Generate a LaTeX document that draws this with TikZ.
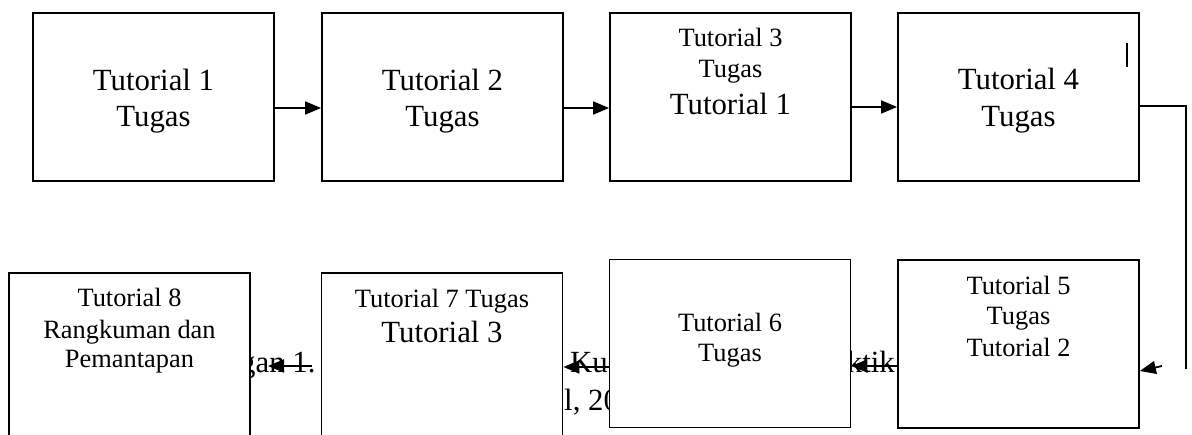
\documentclass[tikz,border=0pt]{standalone}
\usepackage{fontspec}
\setmainfont{Liberation Serif}
\usetikzlibrary{arrows.meta}
\begin{document}
\begin{tikzpicture}[x=1pt,y=-1pt,
  box/.style={draw, line width=1.8pt, fill=white, minimum width=241pt, minimum height=168pt, inner sep=0pt},
  big/.style={font=\fontsize{30.8}{35}\selectfont, inner sep=0pt},
  small/.style={font=\fontsize{26.4}{30}\selectfont, inner sep=0pt},
  arr/.style={line width=1.8pt, -{Triangle[length=16pt,width=13pt]}},
  conn/.style={line width=1.8pt}
]
\useasboundingbox (0,0) rectangle (1192,435);
\clip (0,0) rectangle (1192,435);
% background caption fragments (partly hidden by the boxes)
\node[big, anchor=base west] (t1) at (240,373) {gan 1.};
\node[big, anchor=base west] (t2) at (570,373) {Ku};
\node[big, anchor=base east] (t3) at (895,373) {ktik};
\node[big, anchor=base west] (t4) at (564,411) {l, 20};
% boxes
\node[box] (b1) at (153.5,97) {};
\node[box] (b2) at (442.5,97) {};
\node[box] (b3) at (730.5,97) {};
\node[box] (b4) at (1018.5,97) {};
\node[box] (b5) at (1018.5,344) {};
\node[box] (b6) at (730,343.5) {};
\node[box] (b7) at (442,357) {};
\node[box] (b8) at (129.5,357) {};
% labels
\node[big, anchor=base] (l1a) at (153.5,91) {Tutorial 1};
\node[big, anchor=base] (l1b) at (153.5,127) {Tugas};
\node[big, anchor=base] (l2a) at (442.5,91) {Tutorial 2};
\node[big, anchor=base] (l2b) at (442.5,127) {Tugas};
\node[small, anchor=base] (l3a) at (730.5,47) {Tutorial 3};
\node[small, anchor=base] (l3b) at (730.5,78) {Tugas};
\node[big, anchor=base] (l3c) at (730.5,115) {Tutorial 1};
\node[big, anchor=base] (l4a) at (1018.5,90) {Tutorial 4};
\node[big, anchor=base] (l4b) at (1018.5,127) {Tugas};
\node[small, anchor=base] (l5a) at (1018.5,295) {Tutorial 5};
\node[small, anchor=base] (l5b) at (1018.5,325) {Tugas};
\node[small, anchor=base] (l5c) at (1018.5,357) {Tutorial 2};
\node[small, anchor=base] (l6a) at (730,332) {Tutorial 6};
\node[small, anchor=base] (l6b) at (730,362) {Tugas};
\node[small, anchor=base] (l7a) at (442,308) {Tutorial 7 Tugas};
\node[big, anchor=base] (l7b) at (442,343) {Tutorial 3};
\node[small, anchor=base] (l8a) at (129.5,307) {Tutorial 8};
\node[small, anchor=base] (l8b) at (129.5,339) {Rangkuman dan};
\node[small, anchor=base] (l8c) at (129.5,368) {Pemantapan};
% small stray mark in box 4
\coordinate (m1) at (1127,43);
\coordinate (m2) at (1127,67);
\draw[line width=1.3pt] (m1) -- (m2);
% connectors
\draw[arr] ([yshift=-11pt]b1.east) -- ([yshift=-11pt]b2.west);
\draw[arr] ([yshift=-11pt]b2.east) -- ([yshift=-11pt]b3.west);
\draw[arr] ([yshift=-10pt]b3.east) -- ([yshift=-10pt]b4.west);
\coordinate (c4) at (1186,369);
\draw[conn] ([yshift=-9pt]b4.east) -| (c4);
\coordinate (a5) at (1162,366);
\draw[arr] (a5) -- ([yshift=-27pt]b5.east);
\draw[arr] ([yshift=-22pt]b5.west) -- ([yshift=-22.5pt]b6.east);
\draw[arr] ([yshift=-23.5pt]b6.west) -- ([yshift=-10pt]b7.east);
\coordinate (s7) at (312,366);
\coordinate (e8) at (268,366);
\draw[arr] (s7) -- (e8);
\end{tikzpicture}
\end{document}
